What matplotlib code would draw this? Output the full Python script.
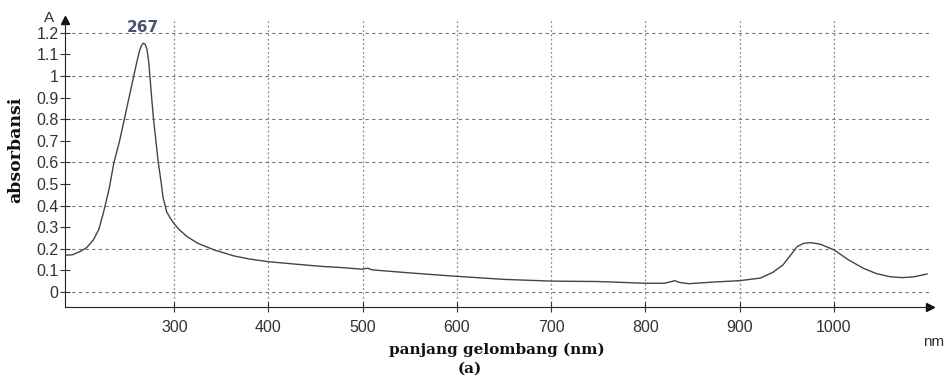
import matplotlib.pyplot as plt
from matplotlib.ticker import MultipleLocator, FormatStrFormatter

# spectrum (nm, absorbance)
wavelength = [184, 192, 200, 207, 214, 220, 225, 231, 236, 242, 247, 252, 257, 260, 263, 265,
              267, 269, 271, 273, 276, 278, 280, 283, 286, 288, 292, 296, 300, 306, 314, 325,
              342, 363, 380, 400, 430, 457, 480, 500, 505, 510, 550, 600, 650, 700, 750, 800,
              820, 826, 831, 836, 846, 870, 900, 922, 935, 946, 955, 961, 968, 975, 985, 1000,
              1015, 1031, 1045, 1060, 1073, 1085, 1099]
absorbance = [0.170, 0.172, 0.187, 0.205, 0.240, 0.290, 0.370, 0.480, 0.600, 0.700, 0.800,
              0.900, 1.000, 1.060, 1.115, 1.140, 1.152, 1.148, 1.125, 1.060, 0.900, 0.800,
              0.720, 0.600, 0.510, 0.440, 0.370, 0.340, 0.315, 0.285, 0.255, 0.225, 0.195,
              0.167, 0.152, 0.140, 0.128, 0.118, 0.112, 0.105, 0.110, 0.102, 0.088, 0.072,
              0.058, 0.050, 0.048, 0.040, 0.040, 0.046, 0.052, 0.044, 0.038, 0.045, 0.052,
              0.064, 0.090, 0.125, 0.175, 0.210, 0.225, 0.228, 0.222, 0.195, 0.150, 0.110,
              0.085, 0.070, 0.066, 0.070, 0.083]

x_ticks = [300, 400, 500, 600, 700, 800, 900, 1000]
peak_label = "267"

fig = plt.figure(figsize=(9.47, 3.76), dpi=100)
ax = fig.add_axes([0.0686, 0.1835, 0.9134, 0.7635])

ax.plot(wavelength, absorbance, color="#444444", lw=1.0)

ax.set_xlim(184, 1102)
ax.set_ylim(-0.07, 1.26)

ax.set_xticks(x_ticks)
ax.yaxis.set_major_locator(MultipleLocator(0.2))
ax.yaxis.set_minor_locator(MultipleLocator(0.1))
ax.yaxis.set_major_formatter(FormatStrFormatter("%g"))
ax.yaxis.set_minor_formatter(FormatStrFormatter("%g"))
ax.tick_params(axis="both", which="both", labelsize=11.5, labelcolor="#333333",
               color="#333333", direction="inout", length=7, width=0.8)
ax.tick_params(axis="y", which="both", pad=1)
ax.tick_params(axis="x", pad=6)
for lab in ax.get_xticklabels() + ax.get_yticklabels() + ax.get_yticklabels(minor=True):
    lab.set_family("Liberation Sans")

ax.grid(axis="y", which="major", color="#777777", ls=(0, (3, 3)), lw=0.8)
ax.grid(axis="x", which="major", color="#888888", ls=(0, (1.5, 2)), lw=0.9)

for s in ["top", "right"]:
    ax.spines[s].set_visible(False)
ax.spines["left"].set_color("#222222")
ax.spines["bottom"].set_color("#222222")

# arrow heads on axes
ax.plot(1, 0, ">", color="#111111", ms=6, transform=ax.transAxes, clip_on=False)
ax.plot(0, 1, "^", color="#111111", ms=6, transform=ax.transAxes, clip_on=False)

fig.text(49 / 947, 1 - 18 / 376, "A", ha="center", va="center",
         fontsize=11, color="#333333", family="Liberation Sans")
fig.text(934 / 947, 1 - 342 / 376, "nm", ha="center", va="center", fontsize=11,
         color="#333333", family="Liberation Sans")

ax.annotate(peak_label, xy=(267, 1.15), xytext=(267, 1.19), ha="center", va="bottom",
            fontsize=11, fontweight="bold", color="#4a5078", family="DejaVu Sans")

fig.text(497 / 947, 1 - 350 / 376, "panjang gelombang (nm)", ha="center", va="center",
         fontsize=11, fontweight="bold", family="DejaVu Serif", color="#111111")
fig.text(470 / 947, 1 - 369 / 376, "(a)", ha="center", va="center",
         fontsize=11, fontweight="bold", family="DejaVu Serif", color="#111111")
fig.text(16 / 947, 1 - 150 / 376, "absorbansi", ha="center", va="center", rotation=90,
         fontsize=12.5, fontweight="bold", family="DejaVu Serif", color="#111111")

fig.savefig("out.png", dpi=100)
